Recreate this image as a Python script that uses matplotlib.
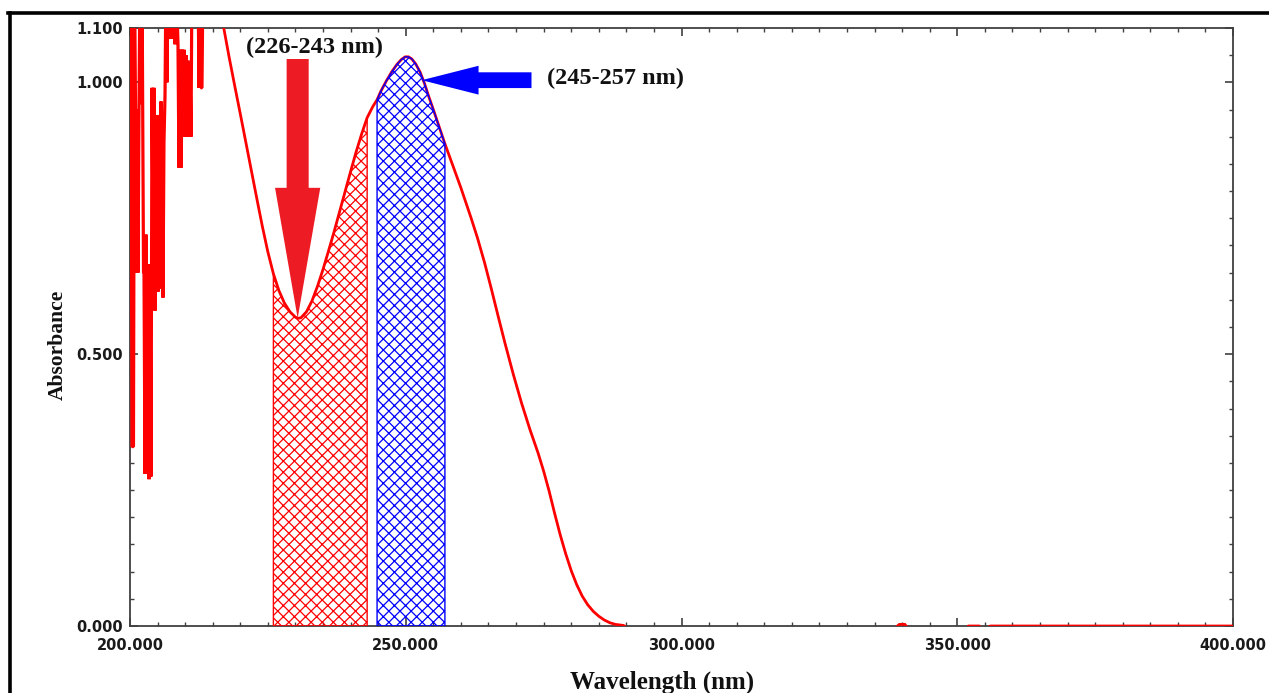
import matplotlib
matplotlib.use("Agg")
import matplotlib.pyplot as plt
import numpy as np
from matplotlib.lines import Line2D

# spectrum (nm, absorbance)
# noisy start 200-213 nm, values above 1.1 are clipped by the axis
noise_wl = [200.00, 200.09, 200.18, 200.36, 200.63, 200.82, 201.00, 201.09, 201.27, 201.45,
            201.63, 201.81, 201.99, 202.18, 202.45, 202.54, 202.72, 202.90, 203.08, 203.26,
            203.45, 203.63, 203.81, 203.99, 204.17, 204.35, 204.53, 204.71, 204.90, 205.08,
            205.26, 205.44, 205.62, 205.80, 205.98, 206.16, 206.35, 206.53, 206.71, 206.89,
            207.07, 207.25, 207.44, 207.62, 207.80, 207.98, 208.16, 208.34, 208.70, 208.88,
            209.07, 209.25, 209.43, 209.61, 209.79, 209.97, 210.15, 210.34, 210.52, 210.70,
            210.88, 211.06, 211.24, 211.60, 211.97, 212.33, 212.51, 212.69, 212.87, 213.05,
            213.24]
noise_abs = [1.20, 0.57, 1.20, 0.33, 0.33, 1.20, 0.95, 0.65, 0.95, 0.65,
             0.95, 1.20, 0.96, 1.20, 0.65, 0.65, 0.28, 0.72, 0.28, 0.665,
             0.27, 0.665, 0.275, 0.99, 0.72, 0.99, 0.58, 0.72, 0.94, 0.615,
             0.94, 0.62, 0.965, 0.89, 0.604, 0.89, 0.977, 1.20, 1.00, 1.20,
             1.08, 1.20, 1.08, 1.20, 1.08, 1.20, 1.07, 1.20, 1.07, 0.843,
             1.06, 0.843, 1.06, 0.90, 1.06, 0.90, 1.05, 0.90, 1.04, 0.90,
             1.03, 0.90, 1.20, 1.20, 1.20, 1.20, 0.99, 1.20, 0.99, 0.99,
             1.20]

band_wl = [215.0, 217.0, 218.0, 219.0, 220.0, 221.0, 222.0, 223.0, 224.0, 225.0,
           226.0, 227.0, 228.0, 229.0, 230.0, 230.5, 231.0, 232.0, 233.0, 234.0,
           235.0, 236.0, 237.0, 238.0, 239.0, 240.0, 241.0, 242.0, 243.0, 244.0,
           244.8, 245.5, 246.5, 247.5, 248.4, 249.2, 249.9, 250.5, 251.1, 251.8,
           252.6, 253.4, 254.1, 255.0, 256.0, 257.1, 258.5, 260.0, 261.8, 263.0,
           264.3, 265.5, 266.7, 268.0, 269.5, 271.0, 272.5, 274.0, 275.0, 276.0,
           277.0, 278.0, 279.0, 280.0, 281.0, 282.0, 283.0, 284.0, 285.0, 286.0,
           287.0, 288.0, 289.5]
band_abs = [1.25, 1.100, 1.045, 0.993, 0.942, 0.890, 0.838, 0.786, 0.735, 0.688,
            0.648, 0.617, 0.594, 0.578, 0.568, 0.566, 0.567, 0.578, 0.598, 0.625,
            0.656, 0.690, 0.725, 0.762, 0.799, 0.836, 0.872, 0.905, 0.935, 0.955,
            0.968, 0.984, 1.003, 1.020, 1.033, 1.042, 1.047, 1.047, 1.043, 1.034,
            1.019, 0.998, 0.976, 0.950, 0.920, 0.887, 0.848, 0.806, 0.752, 0.714,
            0.668, 0.621, 0.572, 0.520, 0.463, 0.410, 0.362, 0.318, 0.285, 0.248,
            0.207, 0.168, 0.133, 0.102, 0.076, 0.055, 0.039, 0.027, 0.018, 0.011,
            0.006, 0.003, 0.001]

tail_wl = [291.0, 338.0, 339.5, 340.5, 341.5, 351.5, 352.0, 354.0, 354.5, 356.0, 400.0]
tail_abs = [-0.01, -0.01, 0.003, 0.003, -0.01, -0.01, 0.0, 0.0, -0.01, 0.0, 0.0]

red_band = (226.0, 243.0)
blue_band = (244.8, 257.1)

xticks = [200, 250, 300, 350, 400]
yticks = [0.0, 0.5, 1.0, 1.1]

wl = np.array(noise_wl + band_wl + tail_wl)
ab = np.array(noise_abs + band_abs + tail_abs)
n_noise = len(noise_wl)

plt.rcParams['hatch.linewidth'] = 0.9

fig = plt.figure(figsize=(12.69, 6.93), dpi=100)
ax = fig.add_axes([130/1269, 1 - 626/693, 1103/1269, 598/693])

# noisy part drawn a bit heavier, as in the original export
ax.plot(wl[:n_noise + 1], ab[:n_noise + 1], color='#ff0000', lw=2.3, zorder=3,
        solid_joinstyle='bevel')
ax.plot(wl[n_noise:], ab[n_noise:], color='#ff0000', lw=2.0, zorder=3)

m = (wl >= red_band[0]) & (wl <= red_band[1])
ax.fill_between(wl[m], ab[m], 0, facecolor='none', edgecolor='#ff0000',
                hatch='xxx', lw=1.0, zorder=3.5)
m = (wl >= blue_band[0]) & (wl <= blue_band[1])
ax.fill_between(wl[m], ab[m], 0, facecolor='none', edgecolor='#0000ff',
                hatch='xxx', lw=1.0, zorder=3.5)

# arrows pointing at the two bands
ax.arrow(230.4, 1.043, 0, 0.566 - 1.043, width=4.0, head_width=8.2,
         head_length=0.24, length_includes_head=True, color='#ed1c24',
         lw=0, zorder=5)
ax.arrow(272.8, 1.004, 252.9 - 272.8, 0, width=0.029, head_width=0.053,
         head_length=10.3, length_includes_head=True, color='#0000ff',
         lw=0, zorder=5)

serif = dict(fontfamily='Liberation Serif', fontweight='bold', color='#111111')
ax.text(233.5, 1.065, '(226-243 nm)', ha='center', va='center', fontsize=17.5, **serif)
ax.text(288.1, 1.008, '(245-257 nm)', ha='center', va='center', fontsize=17.5, **serif)

ax.set_xlim(200, 400)
ax.set_ylim(0, 1.1)
ax.set_xticks(xticks)
ax.set_xticklabels(['%.3f' % t for t in xticks])
ax.set_xticks(np.arange(200, 401, 5), minor=True)
ax.set_yticks(yticks)
ax.set_yticklabels(['%.3f' % t for t in yticks])
ax.set_yticks(np.arange(0, 1.1, 0.05), minor=True)
ax.tick_params(which='both', direction='in', top=True, right=True, color='#404040',
               labelsize=10.5, labelcolor='#1a1a1a')
ax.tick_params(which='major', length=6, width=1.2)
ax.tick_params(which='minor', length=3, width=1.0)
ax.tick_params(axis='x', pad=9)
ax.tick_params(axis='y', pad=5)
for lab in ax.get_xticklabels() + ax.get_yticklabels():
    lab.set_fontweight('bold')
for sp in ax.spines.values():
    sp.set_color('#404040')
    sp.set_linewidth(1.3)

ax.set_xlabel('Wavelength (nm)', fontsize=18, **serif)
ax.xaxis.label.set_va('center')
ax.xaxis.set_label_coords((662 - 130) / 1103, -(682 - 626) / 598)
ax.set_ylabel('Absorbance', fontsize=15.5, **serif)
ax.yaxis.label.set_va('center')
ax.yaxis.set_label_coords(-(130 - 58) / 1103, (626 - 345) / 598)

# outer frame lines
fig.add_artist(Line2D([8/1269, 1], [1 - 13.3/693] * 2, color='black', lw=2.6,
                      transform=fig.transFigure))
fig.add_artist(Line2D([10.3/1269] * 2, [0, 1 - 12.5/693], color='black', lw=2.6,
                      transform=fig.transFigure))

fig.savefig('out.png', dpi=100)
